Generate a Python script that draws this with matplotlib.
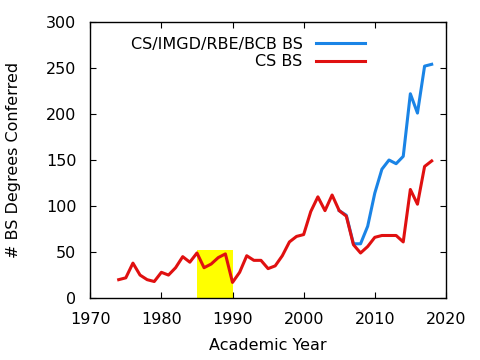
import matplotlib
matplotlib.use("Agg")
import matplotlib.pyplot as plt
from matplotlib.patches import Rectangle

# CS BS degrees conferred per academic year
cs_years = list(range(1974, 2019))
cs_bs = [20, 22, 38, 25, 20, 18, 28, 25, 33, 45, 39, 49, 33, 37, 44, 48, 17, 28,
         46, 41, 41, 32, 35, 46, 61, 67, 69, 94, 110, 95, 112, 95, 89, 58, 49, 56,
         66, 68, 68, 68, 61, 118, 102, 143, 149]

# combined CS/IMGD/RBE/BCB BS (same as CS before the new majors)
all_years = list(range(2005, 2019))
all_bs = [95, 90, 59, 59, 78, 114, 140, 150, 146, 154, 222, 201, 252, 254]

# highlighted span
span_start, span_end, span_height = 1985, 1990, 52

fig = plt.figure(figsize=(4.8, 3.6), dpi=100)
ax = fig.add_axes([0.188, 0.172, 0.741, 0.767])

ax.add_patch(Rectangle((span_start, 0), span_end - span_start, span_height,
                       facecolor="#ffff00", edgecolor="none", zorder=1))
ax.plot(all_years, all_bs, color="#1a84e6", lw=2.2, label="CS/IMGD/RBE/BCB BS", zorder=2)
ax.plot(cs_years, cs_bs, color="#e01010", lw=2.2, label="CS BS", zorder=3)

ax.set_xlim(1970, 2020)
ax.set_ylim(0, 300)
ax.set_xticks(range(1970, 2021, 10))
ax.set_yticks(range(0, 301, 50))
ax.tick_params(direction="in", top=True, right=True, labelsize=11.5, length=4, pad=10)
for sp in ax.spines.values():
    sp.set_linewidth(1.0)

ax.set_xlabel("Academic Year", fontsize=11.5, labelpad=8)
ax.set_ylabel("# BS Degrees Conferred", fontsize=11.5, labelpad=18)

ax.legend(loc="upper right", bbox_to_anchor=(0.795, 0.975), frameon=False,
          markerfirst=False, handlelength=3.1, fontsize=11.5, borderpad=0,
          labelspacing=0.15, handletextpad=0.8)

fig.savefig("out.png", dpi=100)
